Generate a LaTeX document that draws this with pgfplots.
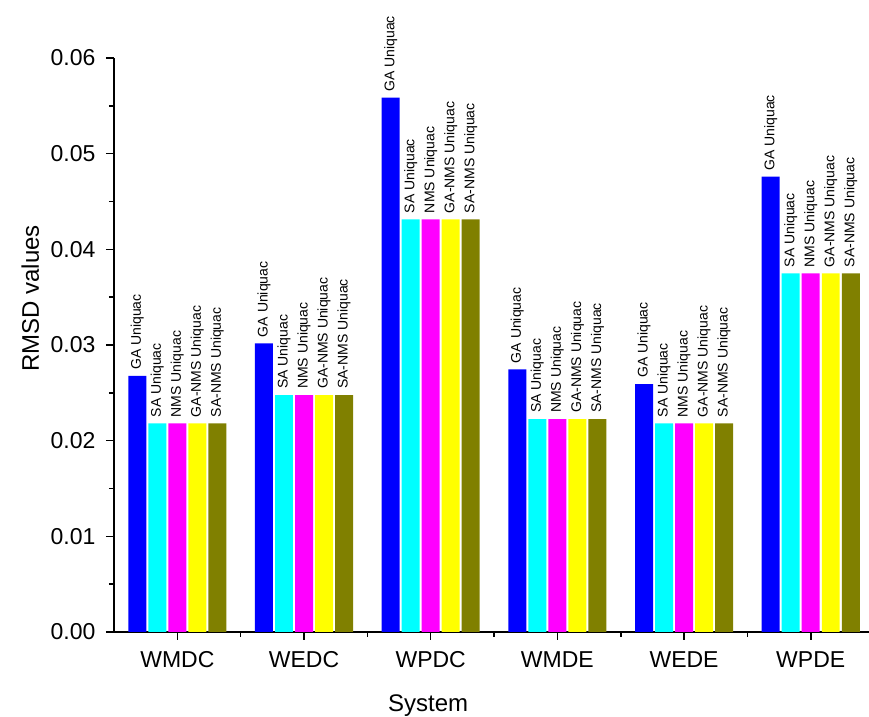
\documentclass[border=0pt]{standalone}
\usepackage{pgfplots}
\pgfplotsset{compat=1.18}
\usepackage{fontspec}
\setmainfont{Liberation Sans}
\definecolor{cGA}{RGB}{0,0,255}
\definecolor{cSA}{RGB}{0,255,255}
\definecolor{cNMS}{RGB}{255,0,255}
\definecolor{cGANMS}{RGB}{255,255,0}
\definecolor{cSANMS}{RGB}{128,128,0}
\begin{document}
\begin{tikzpicture}
\begin{axis}[
  name=ax,
  scale only axis, width=755pt, height=574pt,
  xmin=-0.5, xmax=5.46, ymin=0, ymax=0.06,
  axis x line*=bottom, axis y line*=left,
  axis line style={line width=1.6pt,-},
  tick align=outside,
  major tick length=8pt, minor tick length=5pt,
  every tick/.style={line width=1.6pt, black},
  xtick={0,1,2,3,4,5},
  xticklabels={WMDC,WEDC,WPDC,WMDE,WEDE,WPDE},
  minor xtick={0.5,1.5,2.5,3.5,4.5},
  ytick={0,0.01,0.02,0.03,0.04,0.05,0.06},
  minor ytick={0.005,0.015,0.025,0.035,0.045,0.055},
  scaled y ticks=false,
  yticklabel style={/pgf/number format/fixed, /pgf/number format/fixed zerofill, /pgf/number format/precision=2, xshift=-7pt},
  /pgf/number format/assume math mode=true,
  ticklabel style={font=\fontsize{23}{23}\selectfont},
  xticklabel style={yshift=-8pt},
  ylabel={RMSD values},
  xlabel={System},
  label style={font=\fontsize{24}{24}\selectfont},
  ylabel style={at={(rel axis cs:-0.111,0.581)}, anchor=center},
  xlabel style={at={(rel axis cs:0.416,-0.139)}, anchor=base},
  clip=false,
  every node near coord/.append style={rotate=90, anchor=west, inner xsep=6pt, inner ysep=0pt, font=\fontsize{14}{14}\selectfont, black},
]
\addplot[ybar, bar width=0.142, bar shift=0, fill=cGA, draw=none, nodes near coords={GA Uniquac}]
  coordinates {(-0.316,0.02676) (0.684,0.03018) (1.684,0.05585) (2.684,0.02746) (3.684,0.02592) (4.684,0.04759)};
\addplot[ybar, bar width=0.142, bar shift=0, fill=cSA, draw=none, nodes near coords={SA Uniquac}]
  coordinates {(-0.158,0.02181) (0.842,0.02477) (1.842,0.04314) (2.842,0.02226) (3.842,0.02181) (4.842,0.03749)};
\addplot[ybar, bar width=0.142, bar shift=0, fill=cNMS, draw=none, nodes near coords={NMS Uniquac}]
  coordinates {(0,0.02181) (1,0.02477) (2,0.04314) (3,0.02226) (4,0.02181) (5,0.03749)};
\addplot[ybar, bar width=0.142, bar shift=0, fill=cGANMS, draw=none, nodes near coords={GA-NMS Uniquac}]
  coordinates {(0.158,0.02181) (1.158,0.02477) (2.158,0.04314) (3.158,0.02226) (4.158,0.02181) (5.158,0.03749)};
\addplot[ybar, bar width=0.142, bar shift=0, fill=cSANMS, draw=none, nodes near coords={SA-NMS Uniquac}]
  coordinates {(0.316,0.02181) (1.316,0.02477) (2.316,0.04314) (3.316,0.02226) (4.316,0.02181) (5.316,0.03749)};
\end{axis}
\pgfresetboundingbox
\path (ax.south west) ++(-114pt,-85pt) rectangle ([yshift=58pt]ax.north east);
\end{tikzpicture}
\end{document}
